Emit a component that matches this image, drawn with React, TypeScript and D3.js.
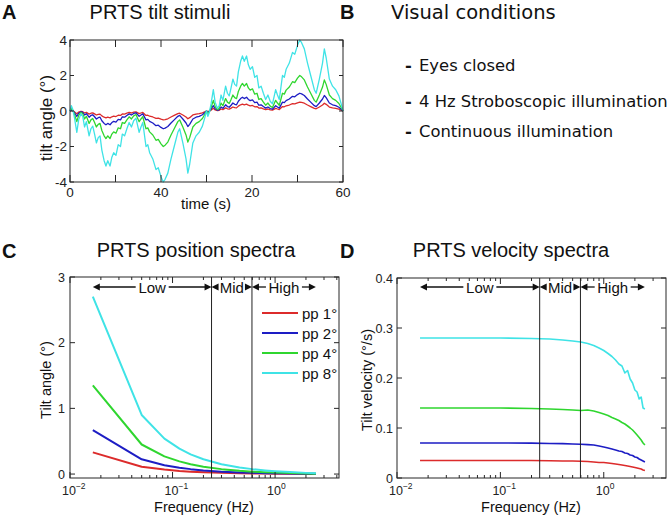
import React from "react";
import * as d3 from "d3";

// ---------- Panel A: PRTS tilt stimulus (pp 8° trace, degrees) ----------
const stimTime = [
  0, 0.3, 0.6, 1.0, 1.5, 1.9, 2.4, 2.8, 3.2, 3.6, 4.2, 4.6, 5.0, 5.4, 5.8, 6.2, 6.6, 7.0, 7.5, 7.9,
  8.3, 8.8, 9.2, 9.6, 10.1, 10.6, 11.1, 11.5, 12.0, 12.5, 13.0, 13.5, 14.0, 14.5, 15.2, 15.6, 16.0,
  16.7, 17.1, 17.5, 18.2, 18.9, 19.4, 20.0, 20.5, 20.9, 21.5, 22.2, 22.9, 23.7, 24.1, 24.8, 25.5,
  25.9, 26.3, 27.0, 27.7, 28.4, 29.1, 29.6,
  30, 30.3, 30.6, 31.0, 31.5, 31.9, 32.4, 32.8, 33.2, 33.6, 34.2, 34.6, 35.0, 35.4, 35.8, 36.2,
  36.6, 37.0, 37.5, 37.9, 38.3, 38.8, 39.2, 39.6, 40.1, 40.6, 41.1, 41.5, 42.0, 42.5, 43.0, 43.5,
  44.0, 44.5, 45.2, 45.6, 46.0, 46.7, 47.1, 47.5, 48.2, 48.9, 49.4, 50.0, 50.5, 50.9, 51.5, 52.2,
  52.9, 53.7, 54.1, 54.8, 55.5, 55.9, 56.3, 57.0, 57.7, 58.4, 59.1, 59.6, 60,
];
const stimPP8 = [
  0, 0.3, 0.1, -0.4, -1.2, -0.5, -0.15, -0.3, -0.9, -0.6, -1.4, -1.0, -0.85, -1.3, -1.8, -1.5, -1.4,
  -2.2, -2.8, -3.1, -2.8, -3.1, -2.6, -2.35, -2.5, -1.9, -2.0, -1.3, -1.4, -1.0, -0.65, -0.9, -0.55,
  -0.4, -1.2, -0.9, -0.65, -2.0, -1.9, -2.35, -2.7, -3.3, -3.2, -3.7, -4.0, -3.85, -3.5, -2.7, -2.0,
  -1.2, -1.0, -1.8, -2.7, -3.5, -3.0, -1.8, -1.4, -1.2, -0.85, -0.4,
  0, -0.3, -0.1, 0.4, 1.2, 0.5, 0.15, 0.3, 0.9, 0.6, 1.4, 1.0, 0.85, 1.3, 1.8, 1.5, 1.4, 2.2, 2.8,
  3.1, 2.8, 3.1, 2.6, 2.35, 2.5, 1.9, 2.0, 1.3, 1.4, 1.0, 0.65, 0.9, 0.55, 0.4, 1.2, 0.9, 0.65, 2.0,
  1.9, 2.35, 2.7, 3.3, 3.2, 3.7, 4.0, 3.85, 3.5, 2.7, 2.0, 1.2, 1.0, 1.8, 2.7, 3.5, 3.0, 1.8, 1.4,
  1.2, 0.85, 0.4, 0,
];
const ppAmplitudes = [1, 2, 4, 8];
const ppLabels = ["pp 1°", "pp 2°", "pp 4°", "pp 8°"];
const seriesColors = ["#dc2b2b", "#1d1dc4", "#2fd62f", "#3fe3e6"];
const timeTickValues = [0, 20, 40, 60];
const timeTickLabels = ["0", "40", "20", "60"];
const angleTicks = [-4, -2, 0, 2, 4];

// ---------- Panel B ----------
const conditions = ["Eyes closed", "4 Hz Stroboscopic illumination", "Continuous illumination"];

// ---------- Panel C: position spectra ----------
const posFreq = [0.0167, 0.05, 0.0833, 0.1167, 0.15, 0.2, 0.3, 0.45, 0.6, 0.8, 1.0, 1.4, 2.0, 2.5];
const posPP1 = [0.33, 0.112, 0.068, 0.048, 0.037, 0.028, 0.019, 0.012, 0.009, 0.007, 0.0055, 0.004, 0.0023, 0.0015];
const posPP2 = [0.67, 0.225, 0.135, 0.097, 0.075, 0.056, 0.037, 0.025, 0.019, 0.014, 0.011, 0.0075, 0.0045, 0.003];
const posPP4 = [1.35, 0.45, 0.27, 0.193, 0.15, 0.112, 0.075, 0.05, 0.037, 0.028, 0.022, 0.015, 0.009, 0.006];
const posPP8 = [2.7, 0.9, 0.54, 0.386, 0.3, 0.225, 0.15, 0.1, 0.075, 0.056, 0.044, 0.03, 0.018, 0.011];

// ---------- Panel D: velocity spectra ----------
const velFreq = [
  0.0167, 0.05, 0.1, 0.2, 0.3, 0.4, 0.5, 0.6, 0.7, 0.8, 0.9, 1.0, 1.1, 1.2, 1.3, 1.4, 1.5, 1.6, 1.7,
  1.8, 1.9, 2.0, 2.1, 2.2, 2.3, 2.4, 2.5,
];
const velPP1 = [0.035, 0.035, 0.035, 0.035, 0.0345, 0.034, 0.034, 0.0335, 0.033, 0.032, 0.031, 0.031, 0.03, 0.029, 0.028, 0.027, 0.026, 0.025, 0.024, 0.023, 0.022, 0.021, 0.02, 0.019, 0.018, 0.016, 0.015];
const velPP2 = [0.07, 0.07, 0.07, 0.0698, 0.069, 0.0688, 0.068, 0.0675, 0.0668, 0.066, 0.064, 0.062, 0.06, 0.058, 0.056, 0.054, 0.053, 0.05, 0.049, 0.046, 0.045, 0.042, 0.041, 0.038, 0.036, 0.034, 0.032];
const velPP4 = [0.14, 0.14, 0.14, 0.139, 0.138, 0.137, 0.136, 0.135, 0.136, 0.134, 0.131, 0.128, 0.125, 0.121, 0.118, 0.115, 0.111, 0.108, 0.104, 0.1, 0.096, 0.091, 0.086, 0.081, 0.076, 0.07, 0.066];
const velPP8 = [0.28, 0.28, 0.28, 0.279, 0.278, 0.276, 0.274, 0.272, 0.269, 0.265, 0.26, 0.255, 0.249, 0.243, 0.236, 0.228, 0.224, 0.21, 0.215, 0.198, 0.19, 0.176, 0.172, 0.158, 0.162, 0.14, 0.138];

const bandEdges = [0.24, 0.595];
const bands = [
  { label: "Low", from: 0.0167, to: 0.24 },
  { label: "Mid", from: 0.24, to: 0.595 },
  { label: "High", from: 0.595, to: 2.5 },
];
const posTicks = [0, 1, 2, 3];
const velTicks = [0, 0.1, 0.2, 0.3, 0.4];
const decadeTicks = [0.01, 0.1, 1];
const decadeExp = ["−2", "−1", "0"];

const SANS = "'Liberation Sans', Arial, Helvetica, sans-serif";
const DEJAVU = "'DejaVu Sans', sans-serif";
const AXIS = "#262626";

function Arrows({ x, y }: { x: d3.ScaleLogarithmic<number, number>; y: number }) {
  const widths: Record<string, number> = { Low: 29, Mid: 26, High: 32 };
  return (
    <g>
      {bands.map((b) => {
        const xa = x(b.from);
        const xb = x(b.to);
        const c = (xa + xb) / 2;
        const w = widths[b.label];
        const l1 = c - w / 2 - 2;
        const r1 = c + w / 2 + 2;
        return (
          <g key={b.label}>
            <path d={`M${xa},${y} L${xa + 7},${y - 3.5} L${xa + 7},${y + 3.5} Z`} fill="#111" />
            <path d={`M${xb},${y} L${xb - 7},${y - 3.5} L${xb - 7},${y + 3.5} Z`} fill="#111" />
            {l1 > xa + 7 && <line x1={xa + 6} x2={l1} y1={y} y2={y} stroke="#111" strokeWidth={1.3} />}
            {r1 < xb - 7 && <line x1={r1} x2={xb - 6} y1={y} y2={y} stroke="#111" strokeWidth={1.3} />}
            <text x={c} y={y + 5.5} textAnchor="middle" fontFamily={SANS} fontSize={15} fill="#111">
              {b.label}
            </text>
          </g>
        );
      })}
    </g>
  );
}

function LogXAxis({ x, y0, y1 }: { x: d3.ScaleLogarithmic<number, number>; y0: number; y1: number }) {
  const [d0, d1] = x.domain();
  const minor: number[] = [];
  for (let e = -2; e <= 0; e++) {
    for (let m = 2; m <= 9; m++) {
      const v = m * Math.pow(10, e);
      if (v > d0 && v < d1) minor.push(v);
    }
  }
  return (
    <g>
      {minor.map((v) => (
        <g key={v}>
          <line x1={x(v)} x2={x(v)} y1={y1} y2={y1 - 3} stroke={AXIS} />
          <line x1={x(v)} x2={x(v)} y1={y0} y2={y0 + 3} stroke={AXIS} />
        </g>
      ))}
      {decadeTicks.map((v, i) => (
        <g key={v}>
          <line x1={x(v)} x2={x(v)} y1={y1} y2={y1 - 6} stroke={AXIS} />
          <line x1={x(v)} x2={x(v)} y1={y0} y2={y0 + 6} stroke={AXIS} />
          <text x={x(v) - 8} y={y1 + 16.5} fontFamily={SANS} fontSize={12.5} fill="#222">
            10
            <tspan dy={-6} fontSize={8.5}>
              {decadeExp[i]}
            </tspan>
          </text>
        </g>
      ))}
    </g>
  );
}

export default function App() {
  // Panel A
  const ax = d3.scaleLinear().domain([0, 60]).range([70, 343]);
  const ay = d3.scaleLinear().domain([-4, 4]).range([182, 40]);
  // Panel C
  const cx = d3.scaleLog().domain([0.01, 4.2]).range([70, 339]);
  const cy = d3.scaleLinear().domain([-0.06, 3]).range([478, 277]);
  // Panel D
  const dx = d3.scaleLog().domain([0.01, 4.0]).range([397, 666]);
  const dy = d3.scaleLinear().domain([0, 0.4]).range([478, 278]);

  const stimLines = ppAmplitudes.map((amp) =>
    d3
      .line<number>()
      .x((_, i) => ax(stimTime[i]))
      .y((v) => ay((v * amp) / 8))(stimPP8)
  );
  const posSeries = [posPP1, posPP2, posPP4, posPP8];
  const velSeries = [velPP1, velPP2, velPP4, velPP8];
  const posLine = d3
    .line<number>()
    .x((_, i) => cx(posFreq[i]))
    .y((v) => cy(v));
  const velLine = d3
    .line<number>()
    .x((_, i) => dx(velFreq[i]))
    .y((v) => dy(v));

  const timeMinor = d3.range(0, 61, 10);

  return (
    <svg width={670} height={516} style={{ display: "block", position: "absolute", left: 0, top: 0, background: "#fff" }}>
      <rect x={0} y={0} width={670} height={516} fill="#fff" />
      {/* ---------------- Panel A ---------------- */}
      <text x={2} y={19} fontFamily={SANS} fontWeight="bold" fontSize={20} fill="#111">A</text>
      <text x={160} y={19} textAnchor="middle" fontFamily={SANS} fontSize={20} fill="#111">PRTS tilt stimuli</text>
      {stimLines.map((d, i) => (
        <path key={i} d={d ?? ""} fill="none" stroke={seriesColors[i]} strokeWidth={1.3} strokeLinejoin="round" />
      ))}
      <rect x={70} y={40} width={273} height={142} fill="none" stroke={AXIS} strokeWidth={1} />
      {timeMinor.map((t) => (
        <g key={t}>
          <line x1={ax(t)} x2={ax(t)} y1={182} y2={175} stroke={AXIS} />
          <line x1={ax(t)} x2={ax(t)} y1={40} y2={47} stroke={AXIS} />
        </g>
      ))}
      {timeTickValues.map((t, i) => (
        <text key={t} x={ax(t)} y={197} textAnchor="middle" fontFamily={SANS} fontSize={13.5} fill="#222">
          {timeTickLabels[i]}
        </text>
      ))}
      {angleTicks.map((v) => (
        <g key={v}>
          <line x1={70} x2={74} y1={ay(v)} y2={ay(v)} stroke={AXIS} />
          <line x1={343} x2={339} y1={ay(v)} y2={ay(v)} stroke={AXIS} />
          <text x={67} y={ay(v) + 4.5} textAnchor="end" fontFamily={SANS} fontSize={13.5} fill="#222">
            {v < 0 ? `-${-v}` : `${v}`}
          </text>
        </g>
      ))}
      <text x={206} y={209} textAnchor="middle" fontFamily={SANS} fontSize={15} fill="#111">time (s)</text>
      <text transform={`translate(52,118) rotate(-90)`} textAnchor="middle" fontFamily={SANS} fontSize={17} fill="#111">
        tilt angle (°)
      </text>

      {/* ---------------- Panel B ---------------- */}
      <text x={340} y={19} fontFamily={SANS} fontWeight="bold" fontSize={20} fill="#111">B</text>
      <text x={391} y={19} fontFamily={DEJAVU} fontSize={19.5} fill="#111">Visual conditions</text>
      {conditions.map((c, i) => (
        <g key={c}>
          <text x={405} y={[71, 106.5, 137][i]} fontFamily={DEJAVU} fontSize={16.4} fontWeight="bold" fill="#111">-</text>
          <text x={419} y={[71, 106.5, 137][i]} fontFamily={DEJAVU} fontSize={16.4} fill="#111">{c}</text>
        </g>
      ))}

      {/* ---------------- Panel C ---------------- */}
      <text x={2} y={258} fontFamily={SANS} fontWeight="bold" fontSize={20} fill="#111">C</text>
      <text x={196} y={257} textAnchor="middle" fontFamily={SANS} fontSize={20} fill="#111">PRTS position spectra</text>
      {posSeries.map((s, i) => (
        <path key={i} d={posLine(s) ?? ""} fill="none" stroke={seriesColors[i]} strokeWidth={2} strokeLinejoin="round" />
      ))}
      {bandEdges.map((f) => (
        <line key={f} x1={cx(f)} x2={cx(f)} y1={277} y2={478} stroke="#222" strokeWidth={1} />
      ))}
      <rect x={70} y={277} width={269} height={201} fill="none" stroke={AXIS} />
      <LogXAxis x={cx} y0={277} y1={478} />
      {posTicks.map((v) => (
        <g key={v}>
          <line x1={70} x2={75} y1={cy(v)} y2={cy(v)} stroke={AXIS} />
          <line x1={339} x2={334} y1={cy(v)} y2={cy(v)} stroke={AXIS} />
          <text x={65} y={cy(v) + 4.5} textAnchor="end" fontFamily={SANS} fontSize={12.5} fill="#222">{v}</text>
        </g>
      ))}
      <Arrows x={cx} y={287} />
      {ppLabels.map((l, i) => (
        <g key={l}>
          <line x1={262} x2={298} y1={313 + i * 20} y2={313 + i * 20} stroke={seriesColors[i]} strokeWidth={2} />
          <text x={302} y={318.5 + i * 20} fontFamily={SANS} fontSize={15} fill="#111">{l}</text>
        </g>
      ))}
      <text x={204} y={512} textAnchor="middle" fontFamily={SANS} fontSize={14.5} fill="#111">Frequency (Hz)</text>
      <text transform={`translate(51,380) rotate(-90)`} textAnchor="middle" fontFamily={SANS} fontSize={14.5} fill="#111">
        Tilt angle (°)
      </text>

      {/* ---------------- Panel D ---------------- */}
      <text x={340} y={258} fontFamily={SANS} fontWeight="bold" fontSize={20} fill="#111">D</text>
      <text x={511} y={257} textAnchor="middle" fontFamily={SANS} fontSize={20} fill="#111">PRTS velocity spectra</text>
      {velSeries.map((s, i) => (
        <path key={i} d={velLine(s) ?? ""} fill="none" stroke={seriesColors[i]} strokeWidth={1.6} strokeLinejoin="round" />
      ))}
      {bandEdges.map((f) => (
        <line key={f} x1={dx(f)} x2={dx(f)} y1={278} y2={478} stroke="#222" strokeWidth={1} />
      ))}
      <rect x={397} y={278} width={269} height={200} fill="none" stroke={AXIS} />
      <LogXAxis x={dx} y0={278} y1={478} />
      {velTicks.map((v) => (
        <g key={v}>
          <line x1={397} x2={402} y1={dy(v)} y2={dy(v)} stroke={AXIS} />
          <line x1={666} x2={661} y1={dy(v)} y2={dy(v)} stroke={AXIS} />
          <text x={393} y={dy(v) + 4.5} textAnchor="end" fontFamily={SANS} fontSize={12.5} fill="#222">{v}</text>
        </g>
      ))}
      <Arrows x={dx} y={287} />
      <text x={531} y={512} textAnchor="middle" fontFamily={SANS} fontSize={14.5} fill="#111">Frequency (Hz)</text>
      <text transform={`translate(372,380) rotate(-90)`} textAnchor="middle" fontFamily={SANS} fontSize={14.5} fill="#111">
        Tilt velocity (°/s)
      </text>
    </svg>
  );
}
